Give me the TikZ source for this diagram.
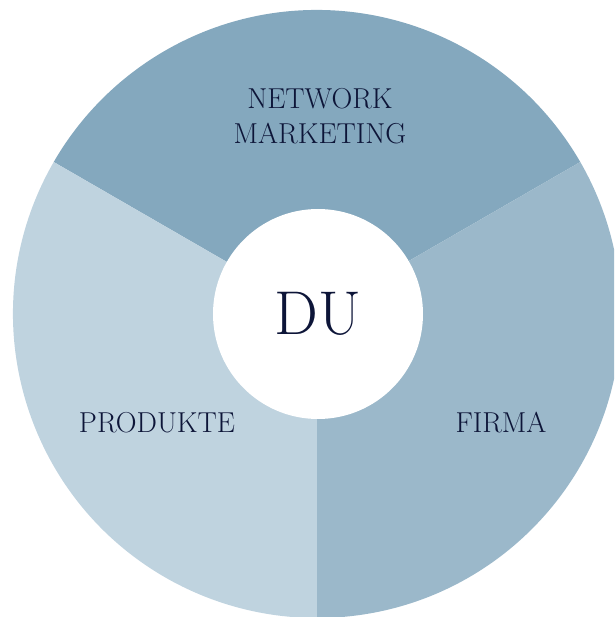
\documentclass[tikz,border=0pt]{standalone}
\usepackage{fontspec}
\definecolor{topblue}{HTML}{84A8BE}
\definecolor{rightblue}{HTML}{9BB8CA}
\definecolor{leftblue}{HTML}{BFD3DF}
\definecolor{navy}{HTML}{0D1538}
\begin{document}
\begin{tikzpicture}[
    x=0.025cm, y=0.025cm,
    sector/.style={fill=#1, draw=none},
    label/.style={text=navy, align=center, font=\fontsize{20.5}{25}\selectfont},
    centre/.style={circle, fill=white, minimum size=210*0.025cm, inner sep=0pt, text=navy, font=\fontsize{44}{44}\selectfont}
]
    \clip (-317,-303) rectangle (297,314);

    % Sectors
    \fill[sector=topblue] (0,0) -- (30:304) arc[start angle=30, end angle=150, radius=304] -- cycle;
    \fill[sector=leftblue] (0,0) -- (150:304) arc[start angle=150, end angle=270, radius=304] -- cycle;
    \fill[sector=rightblue] (0,0) -- (270:304) arc[start angle=270, end angle=390, radius=304] -- cycle;

    % Centre
    \node[centre] (du) at (1,0) {DU};

    % Labels
    \node[label] (network) at (3,198) {NETWORK\\MARKETING};
    \node[label] (produkte) at (-160,-109) {PRODUKTE};
    \node[label] (firma) at (184,-109) {FIRMA};

\end{tikzpicture}
\end{document}
